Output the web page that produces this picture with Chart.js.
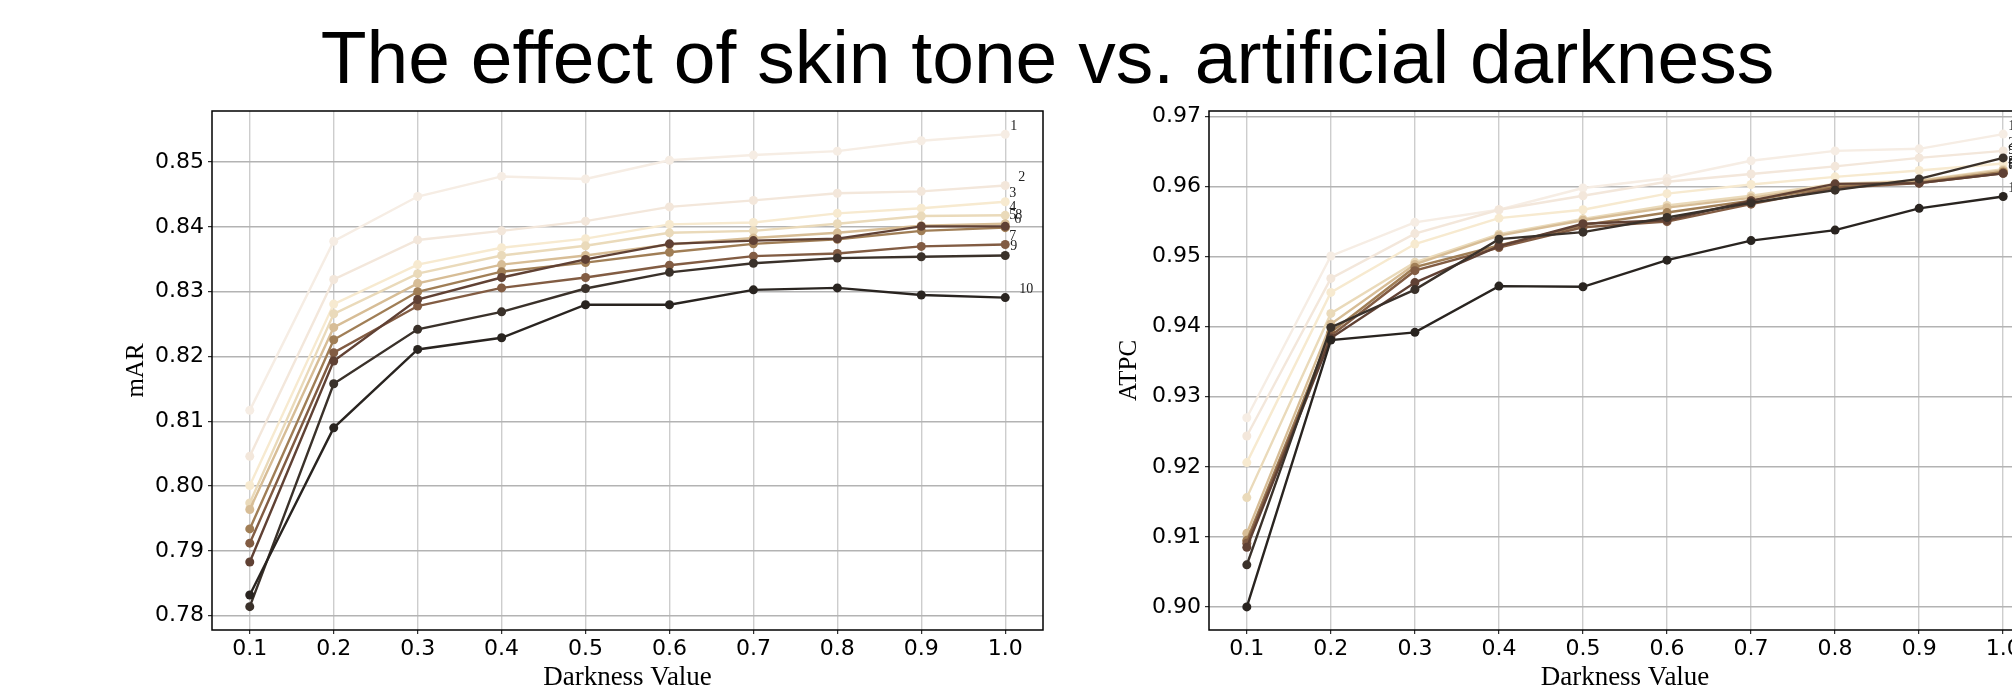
<!DOCTYPE html>
<html>
<head>
<meta charset="utf-8">
<title>The effect of skin tone vs. artificial darkness</title>
<script src="https://cdn.jsdelivr.net/npm/chart.js@4.4.1/dist/chart.umd.min.js"></script>
<style>
  html, body { margin: 0; padding: 0; background: #fff; }
  body { width: 2012px; height: 699px; overflow: hidden; position: relative; }
  #title {
    position: absolute; left: 0; top: 19px; width: 2095px;
    text-align: center; white-space: nowrap; color: #000;
    font-family: "Liberation Sans", Arial, sans-serif; font-size: 75px; line-height: 76px;
  }
  #marChart { position: absolute; left: 0; top: 0; }
  #atpcChart { position: absolute; left: 1100px; top: 0; }
</style>
</head>
<body>
<div id="title">The effect of skin tone vs. artificial darkness</div>
<canvas id="marChart" width="1100" height="699"></canvas>
<canvas id="atpcChart" width="1000" height="699"></canvas>
<script>
// x values and tick labels
const darkness = [0.1, 0.2, 0.3, 0.4, 0.5, 0.6, 0.7, 0.8, 0.9, 1.0];
const marTicks = [0.78, 0.79, 0.80, 0.81, 0.82, 0.83, 0.84, 0.85];
const atpcTicks = [0.90, 0.91, 0.92, 0.93, 0.94, 0.95, 0.96, 0.97];

// skin tones 1 (lightest) .. 10 (darkest)
const tones = ["1", "2", "3", "4", "5", "6", "7", "8", "9", "10"];
const toneColors = ["#f6ede4", "#f3e7db", "#f7ead0", "#eadaba", "#d7bd96",
                    "#a07e56", "#825c43", "#604134", "#3a312a", "#292420"];

// mAR per tone, one row per tone, one value per darkness
const marValues = [
  [0.8117, 0.8378, 0.8447, 0.8478, 0.8474, 0.8503, 0.8511, 0.8517, 0.8533, 0.8543],
  [0.8046, 0.8319, 0.8380, 0.8394, 0.8409, 0.8431, 0.8441, 0.8452, 0.8455, 0.8464],
  [0.8001, 0.8281, 0.8342, 0.8368, 0.8382, 0.8404, 0.8407, 0.8421, 0.8429, 0.8439],
  [0.7974, 0.8266, 0.8328, 0.8356, 0.8371, 0.8391, 0.8394, 0.8405, 0.8417, 0.8418],
  [0.7964, 0.8245, 0.8313, 0.8342, 0.8356, 0.8373, 0.8383, 0.8391, 0.8402, 0.8405],
  [0.7934, 0.8226, 0.8300, 0.8331, 0.8345, 0.8361, 0.8374, 0.8381, 0.8394, 0.8399],
  [0.7912, 0.8206, 0.8278, 0.8306, 0.8322, 0.8341, 0.8355, 0.8359, 0.8370, 0.8373],
  [0.7883, 0.8193, 0.8288, 0.8322, 0.8350, 0.8374, 0.8379, 0.8382, 0.8401, 0.8401],
  [0.7814, 0.8158, 0.8242, 0.8269, 0.8305, 0.8330, 0.8344, 0.8352, 0.8354, 0.8356],
  [0.7832, 0.8090, 0.8211, 0.8229, 0.8280, 0.8280, 0.8303, 0.8306, 0.8295, 0.8291]
];

// ATPC per tone
const atpcValues = [
  [0.9270, 0.9501, 0.9549, 0.9567, 0.9598, 0.9612, 0.9637, 0.9651, 0.9654, 0.9675],
  [0.9244, 0.9469, 0.9533, 0.9567, 0.9587, 0.9607, 0.9618, 0.9629, 0.9641, 0.9651],
  [0.9206, 0.9449, 0.9518, 0.9555, 0.9567, 0.9590, 0.9603, 0.9614, 0.9623, 0.9633],
  [0.9156, 0.9419, 0.9492, 0.9532, 0.9554, 0.9573, 0.9587, 0.9604, 0.9609, 0.9625],
  [0.9105, 0.9404, 0.9489, 0.9530, 0.9552, 0.9570, 0.9584, 0.9602, 0.9608, 0.9623],
  [0.9095, 0.9392, 0.9485, 0.9516, 0.9545, 0.9563, 0.9580, 0.9600, 0.9606, 0.9621],
  [0.9091, 0.9387, 0.9480, 0.9513, 0.9542, 0.9550, 0.9575, 0.9598, 0.9605, 0.9619],
  [0.9085, 0.9384, 0.9463, 0.9515, 0.9547, 0.9552, 0.9580, 0.9604, 0.9605, 0.9619],
  [0.9060, 0.9399, 0.9453, 0.9525, 0.9535, 0.9556, 0.9577, 0.9595, 0.9611, 0.9641],
  [0.9000, 0.9381, 0.9392, 0.9458, 0.9457, 0.9495, 0.9523, 0.9538, 0.9569, 0.9586]
];

// nudges (px) for the tone numbers written next to the last point
const marNudge = [[5, -8], [13, -8], [4, -8], [4, -8], [4, -8], [9, -8], [4, -8], [10, -11], [5, -9], [14, -8]];
const atpcNudge = [[5, -8], [5, -8], [5, -8], [5, -8], [5, -8], [5, -8], [5, -8], [5, -8], [5, -8], [5, -8]];

const tickFont = { family: "'DejaVu Sans', sans-serif", size: 22 };
const labelFont = { family: "'Liberation Serif', 'DejaVu Serif', serif", size: 25 };

// black frame round the plot area
const framePlugin = {
  id: "frame",
  afterDatasetsDraw(chart) {
    const { ctx, chartArea: a } = chart;
    ctx.save();
    ctx.strokeStyle = "#000";
    ctx.lineWidth = 1.5;
    ctx.strokeRect(a.left, a.top, a.right - a.left, a.bottom - a.top);
    ctx.restore();
  }
};

// tone number at the end of each line
const endLabelPlugin = {
  id: "endLabels",
  afterDraw(chart, args, opts) {
    const { ctx, scales } = chart;
    ctx.save();
    ctx.font = "14px 'Liberation Serif', serif";
    ctx.fillStyle = "#222";
    ctx.textAlign = "left";
    ctx.textBaseline = "middle";
    chart.data.datasets.forEach((ds, i) => {
      const last = ds.data[ds.data.length - 1];
      const x = scales.x.getPixelForValue(last.x) + opts.nudge[i][0];
      const y = scales.y.getPixelForValue(last.y) + opts.nudge[i][1];
      ctx.fillText(ds.label, x, y);
    });
    ctx.restore();
  }
};

function makeChart(id, values, yTicks, yMin, yMax, yTitle, axisWidth, titlePad, rightPad, nudge) {
  const datasets = values.map((row, i) => ({
    label: tones[i],
    data: row.map((v, j) => ({ x: darkness[j], y: v })),
    borderColor: toneColors[i],
    backgroundColor: toneColors[i],
    pointBackgroundColor: toneColors[i],
    pointBorderColor: toneColors[i],
    borderWidth: 2.4,
    pointRadius: 4.5,
    pointBorderWidth: 0,
    tension: 0,
    order: values.length - i // darkest drawn on top
  }));

  return new Chart(document.getElementById(id), {
    type: "line",
    data: { datasets },
    plugins: [framePlugin, endLabelPlugin],
    options: {
      responsive: false,
      animation: false,
      events: [],
      layout: { padding: { top: 111, right: rightPad, bottom: 0, left: 0 } },
      plugins: {
        legend: { display: false },
        tooltip: { enabled: false },
        endLabels: { nudge }
      },
      scales: {
        x: {
          type: "linear",
          min: 0.055,
          max: 1.045,
          afterBuildTicks: (s) => { s.ticks = darkness.map((v) => ({ value: v })); },
          afterFit: (s) => { s.height = 69; },
          border: { display: false },
          grid: { color: "#cdcdcd", lineWidth: 1.4, tickLength: 4, tickColor: "#000", tickWidth: 1 },
          ticks: { font: tickFont, color: "#000", padding: 2, maxRotation: 0, callback: (v) => v.toFixed(1) },
          title: { display: true, text: "Darkness Value", font: { ...labelFont, size: 27 }, color: "#000", padding: { top: 0, bottom: 5 } }
        },
        y: {
          type: "linear",
          min: yMin,
          max: yMax,
          afterBuildTicks: (s) => { s.ticks = yTicks.map((v) => ({ value: v })); },
          afterFit: (s) => { s.width = axisWidth; },
          border: { display: false },
          grid: { color: "#b3b3b3", lineWidth: 1.4, tickLength: 4, tickColor: "#000", tickWidth: 1 },
          ticks: { font: tickFont, color: "#000", padding: 4, callback: (v) => v.toFixed(2) },
          title: { display: true, text: yTitle, font: labelFont, color: "#000", padding: { top: titlePad, bottom: 0 } }
        }
      }
    }
  });
}

makeChart("marChart", marValues, marTicks, 0.7778, 0.8579, "mAR", 212, 121, 57, marNudge);
makeChart("atpcChart", atpcValues, atpcTicks, 0.8967, 0.9708, "ATPC", 109, 14, 59, atpcNudge);
</script>
</body>
</html>
